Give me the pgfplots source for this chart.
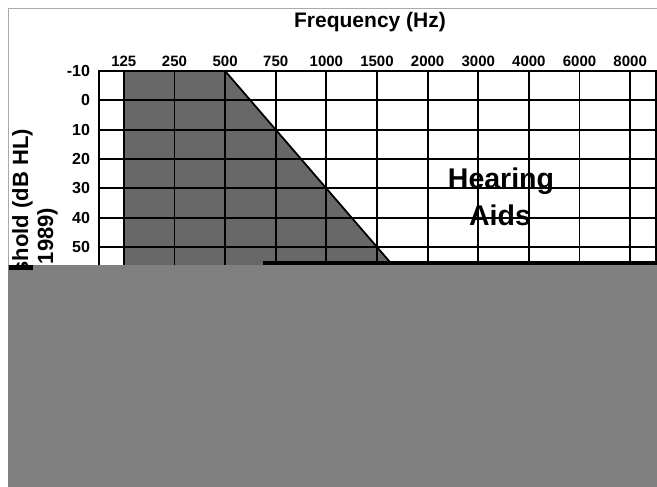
\documentclass[border=0pt]{standalone}
\usepackage{fontspec}
\setmainfont{Liberation Sans}
\usepackage{pgfplots}
\pgfplotsset{compat=1.18}
\definecolor{fillgray}{RGB}{104,104,104}
\definecolor{covergray}{RGB}{128,128,128}
\definecolor{framegray}{RGB}{170,170,170}
\begin{document}
\begin{tikzpicture}
\useasboundingbox (0pt,0pt) rectangle (657pt,487pt);
\fill[white] (0pt,0pt) rectangle (657pt,487pt);
\draw[framegray, line width=1pt] (8pt,0pt) -- (8pt,478pt) -- (657pt,478pt);
\begin{axis}[
 at={(98.5pt,416pt)}, anchor=north west,
 scale only axis, width=557pt, height=381.5pt,
 xmin=-0.5, xmax=10.5, ymin=-10, ymax=120, y dir=reverse,
 xtick={0,...,10}, xticklabels={125,250,500,750,1000,1500,2000,3000,4000,6000,8000},
 ytick={-10,0,...,120},
 xticklabel pos=right,
 grid=major, major grid style={black, line width=1.8pt},
 axis line style={black, line width=2pt},
 major tick length=0pt,
 xticklabel style={font=\fontsize{15}{16}\selectfont\bfseries, yshift=1pt},
 yticklabel style={font=\fontsize{16}{17}\selectfont\bfseries, xshift=-5pt},
 /pgf/number format/assume math mode=true,
 axis on top,
]
\addplot[fill=fillgray, draw=none] coordinates {(0,-10) (2,-10) (8.5,120) (0,120)} -- cycle;
\addplot[black, line width=1.8pt] coordinates {(2,-10) (8.5,120)};
\end{axis}
\node[font=\fontsize{21}{24}\selectfont\bfseries] at (370pt,465pt) {Frequency (Hz)};
\node[anchor=base, font=\fontsize{28.5}{32}\selectfont\bfseries] at (501pt,298pt) {Hearing};
\node[anchor=base, font=\fontsize{28.5}{32}\selectfont\bfseries] at (500pt,261pt) {Aids};
\node[rotate=90, align=center, font=\fontsize{22}{25}\selectfont\bfseries] at (35pt,218pt) {Hearing Threshold (dB HL)\\(ANSI 1989)};
\fill[covergray] (8pt,0pt) rectangle (657pt,222pt);
\fill[black] (9pt,217pt) rectangle (33pt,222pt);
\fill[black] (263pt,222pt) rectangle (657pt,226pt);
\end{tikzpicture}
\end{document}
